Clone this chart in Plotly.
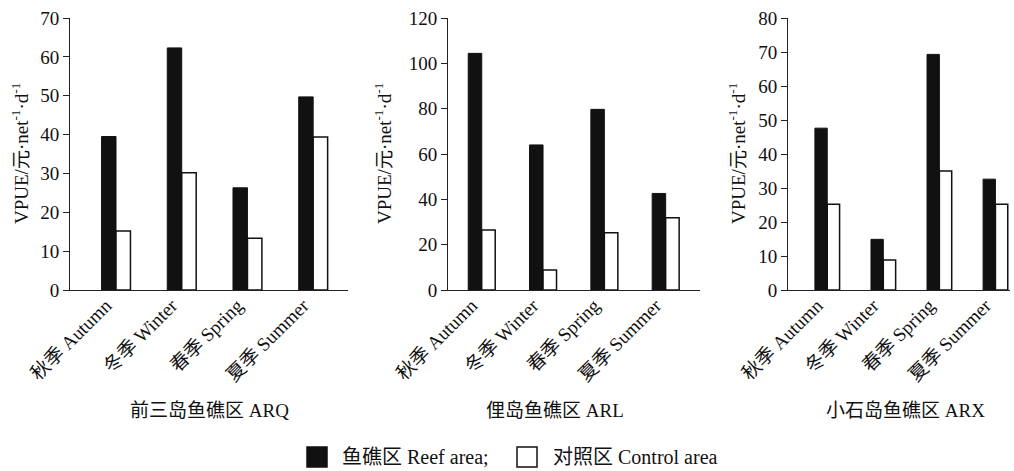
import plotly.graph_objects as go

W, H = 1014, 471

seasons = ["秋季 Autumn", "冬季 Winter", "春季 Spring", "夏季 Summer"]

# VPUE (元·net⁻¹·d⁻¹) per site and season
arq_reef = [39.5, 62.3, 26.3, 49.7]
arq_ctrl = [15.2, 30.2, 13.3, 39.4]
arl_reef = [104.4, 64.0, 79.7, 42.6]
arl_ctrl = [26.5, 8.8, 25.3, 31.9]
arx_reef = [47.6, 14.9, 69.3, 32.6]
arx_ctrl = [25.2, 8.8, 35.0, 25.2]

site_names = ["前三岛鱼礁区 ARQ", "俚岛鱼礁区 ARL", "小石岛鱼礁区 ARX"]
y_max = [70, 120, 80]
y_step = [10, 20, 10]

FONT = "Liberation Serif, Noto Sans CJK SC, serif"
FS = 19

def px_x(p):
    return p / W

def px_y(p):
    return 1 - p / H

# panel geometry (pixel coordinates of the plotting area)
panels = [
    dict(x0=70, x1=348, xr=[-0.70, 3.53], title_x=209, ytitle_x=20),
    dict(x0=448, x1=700, xr=[-0.55, 3.56], title_x=555, ytitle_x=383),
    dict(x0=788, x1=1010, xr=[-0.70, 3.26], title_x=905, ytitle_x=737),
]
top_px, bot_px = 18, 290

data = [(arq_reef, arq_ctrl), (arl_reef, arl_ctrl), (arx_reef, arx_ctrl)]

fig = go.Figure()
bw = 0.22
for i, (reef, ctrl) in enumerate(data):
    xa = "x" if i == 0 else f"x{i+1}"
    ya = "y" if i == 0 else f"y{i+1}"
    fig.add_trace(go.Bar(x=seasons, y=reef, xaxis=xa, yaxis=ya, width=bw, offset=-bw,
                         marker=dict(color="#111111", line=dict(color="#111111", width=1)),
                         name="鱼礁区 Reef area", showlegend=False))
    fig.add_trace(go.Bar(x=seasons, y=ctrl, xaxis=xa, yaxis=ya, width=bw, offset=0,
                         marker=dict(color="white", line=dict(color="#111111", width=1.5)),
                         name="对照区 Control area", showlegend=False))

layout = dict(
    width=W, height=H,
    margin=dict(l=0, r=0, t=0, b=0, autoexpand=False),
    paper_bgcolor="white", plot_bgcolor="white",
    barmode="overlay",
    font=dict(family=FONT, size=FS, color="#111111"),
    showlegend=False,
)

annotations = []
shapes = []
for i, p in enumerate(panels):
    sx = "" if i == 0 else str(i + 1)
    layout[f"xaxis{sx}"] = dict(
        domain=[px_x(p["x0"]), px_x(p["x1"])],
        anchor=f"y{sx}", range=p["xr"], type="category",
        showline=True, linecolor="#222222", linewidth=1,
        ticks="", tickangle=-45, showgrid=False, zeroline=False,
        ticklabelshift=-10, ticklabelstandoff=-4,
        tickfont=dict(family=FONT, size=FS, color="#111111"),
        automargin=False, fixedrange=True,
    )
    layout[f"yaxis{sx}"] = dict(
        domain=[px_y(bot_px), px_y(top_px)],
        anchor=f"x{sx}", range=[0, y_max[i]], dtick=y_step[i], tick0=0,
        showline=True, linecolor="#222222", linewidth=1,
        ticks="outside", ticklen=6, tickcolor="#222222",
        showgrid=False, zeroline=False,
        tickfont=dict(family=FONT, size=FS, color="#111111"),
        automargin=False, fixedrange=True,
    )
    annotations.append(dict(
        text="VPUE/元·net<sup>-1</sup>·d<sup>-1</sup>", textangle=-90,
        xref="paper", yref="paper", x=px_x(p["ytitle_x"]), y=px_y(154),
        xanchor="center", yanchor="middle", showarrow=False,
        font=dict(family=FONT, size=FS, color="#111111"),
    ))
    annotations.append(dict(
        text=site_names[i], xref="paper", yref="paper",
        x=px_x(p["title_x"]), y=px_y(410), xanchor="center", yanchor="middle",
        showarrow=False, font=dict(family=FONT, size=FS, color="#111111"),
    ))

# legend drawn as swatches + labels
legend_items = [
    ("鱼礁区 Reef area;", "#111111", 307, 340),
    ("对照区 Control area", "white", 517, 551),
]
for label, fill, sx0, tx in legend_items:
    shapes.append(dict(type="rect", xref="paper", yref="paper",
                       x0=px_x(sx0), x1=px_x(sx0 + 20), y0=px_y(467), y1=px_y(447),
                       fillcolor=fill, line=dict(color="#111111", width=1.5)))
    annotations.append(dict(text=label, xref="paper", yref="paper",
                            x=px_x(tx), y=px_y(457), xanchor="left", yanchor="middle",
                            showarrow=False, font=dict(family=FONT, size=FS + 1, color="#111111")))

layout["annotations"] = annotations
layout["shapes"] = shapes
fig.update_layout(**layout)

fig.write_html("out.html")
